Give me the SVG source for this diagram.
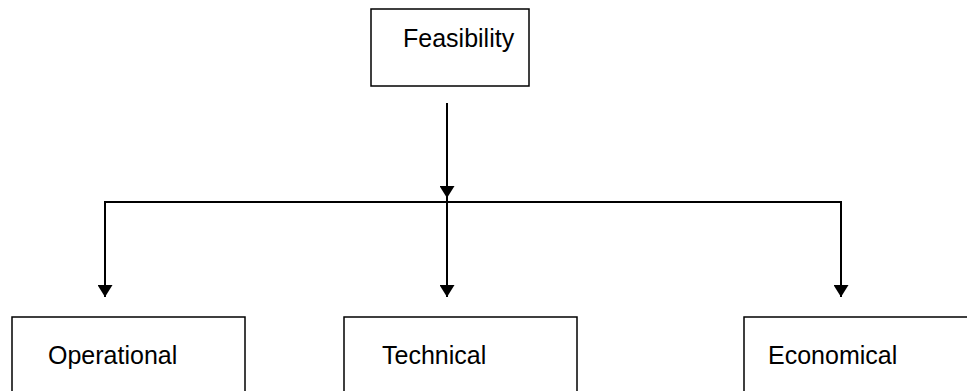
<svg xmlns="http://www.w3.org/2000/svg" width="967" height="391" viewBox="0 0 967 391">
<style>
.box{fill:#fff;stroke:#000;stroke-width:1.5}
.lbl{font-family:"Liberation Sans",Arial,sans-serif;font-size:25px;fill:#000}
.con{fill:none;stroke:#000;stroke-width:2}
</style>
<defs>
<marker id="ah" viewBox="0 0 12 15" refX="12" refY="7.5" markerWidth="12" markerHeight="15" markerUnits="userSpaceOnUse" orient="auto">
<path d="M0,0 L12,7.5 L0,15 Z" fill="#000"/>
</marker>
</defs>
<rect width="967" height="391" fill="#fff"/>
<g id="connectors">
<line class="con" x1="447" y1="103" x2="447" y2="198" marker-end="url(#ah)"/>
<polyline class="con" points="105,296 105,202 841,202 841,296"/>
<line class="con" x1="105" y1="202" x2="105" y2="297" marker-end="url(#ah)"/>
<line class="con" x1="447" y1="198" x2="447" y2="297" marker-end="url(#ah)"/>
<line class="con" x1="841" y1="202" x2="841" y2="297" marker-end="url(#ah)"/>
</g>
<g id="feasibility">
<rect class="box" x="371" y="9" width="158" height="77"/>
<text class="lbl" x="403" y="47">Feasibility</text>
</g>
<g id="operational">
<rect class="box" x="12" y="317" width="233" height="80"/>
<text class="lbl" x="48" y="364">Operational</text>
</g>
<g id="technical">
<rect class="box" x="344" y="317" width="233" height="80"/>
<text class="lbl" x="382" y="364">Technical</text>
</g>
<g id="economical">
<rect class="box" x="744" y="317" width="233" height="80"/>
<text class="lbl" x="768" y="364">Economical</text>
</g>
</svg>
